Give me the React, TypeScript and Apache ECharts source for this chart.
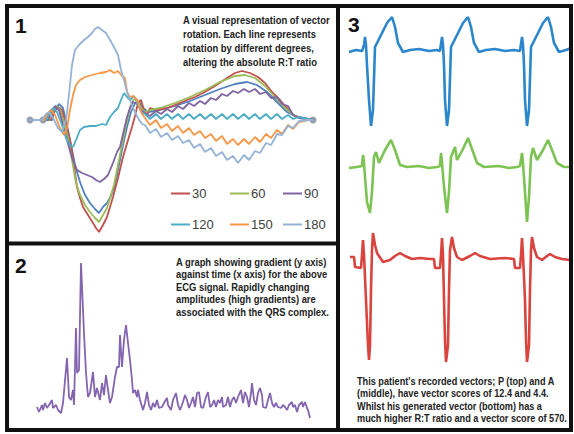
import React, { useEffect, useRef } from 'react';
import * as echarts from 'echarts';

// ---------- Panel 1: vector rotation (time, amplitude) ----------
const rotation0 = [[0,0],[24,0],[27,10],[31,16],[35,12],[39,-5],[43,-25],[47,-45],[52,-62],[57,-75],[62,-83],[67,-89],[71,-93],[75,-87],[79,-83],[83,-76],[87,-65],[91,-45],[95,-25],[99,-7],[103,8],[107,17],[111,18],[115,12],[120,8],[132,10],[147,14],[162,19],[177,25],[192,31],[207,36],[219,38],[229,35],[239,28],[249,18],[259,8],[269,3],[285,0]];
const rotation30 = [[0,0],[22,0],[26,8],[30,13],[34,10],[38,-5],[42,-20],[46,-45],[49,-67],[52,-78],[55,-87],[60,-95],[65,-103],[68,-108],[71,-112],[75,-105],[79,-97],[82,-87],[85,-77],[90,-58],[95,-37],[100,-20],[104,-7],[107,4],[110,17],[113,20],[116,10],[119,5],[122,12],[129,10],[139,12],[147,15],[159,20],[167,23],[175,27],[187,34],[199,42],[207,47],[214,49],[222,47],[230,43],[237,37],[244,28],[252,20],[259,12],[265,5],[275,2],[285,0]];
const rotation60 = [[0,0],[21,0],[24,8],[28,14],[32,10],[36,-2],[40,-18],[44,-40],[48,-63],[52,-75],[57,-85],[62,-92],[67,-98],[71,-102],[75,-95],[79,-88],[82,-78],[86,-65],[90,-45],[94,-25],[98,-5],[102,12],[105,20],[109,21],[113,12],[117,8],[122,10],[132,12],[147,17],[162,23],[177,30],[192,38],[207,44],[217,45],[227,42],[237,34],[247,23],[257,12],[267,4],[277,1],[285,0]];
const rotation90 = [[0,0],[20,0],[23,8],[27,14],[31,10],[35,-5],[39,-20],[44,-38],[49,-50],[54,-53],[59,-55],[64,-57],[68,-60],[72,-62],[76,-59],[80,-55],[85,-43],[89,-32],[92,-27],[96,-10],[99,3],[102,12],[105,18],[109,16],[113,10],[117,7],[122,4],[128,9],[133,6],[139,11],[144,8],[150,14],[155,11],[161,17],[166,14],[172,19],[177,16],[183,22],[188,20],[194,26],[199,24],[205,29],[210,27],[216,31],[221,28],[227,31],[232,26],[238,28],[243,22],[249,23],[254,16],[260,14],[265,5],[271,2],[285,0]];
const rotation120 = [[0,0],[18,0],[22,8],[25,12],[29,8],[34,-5],[38,-18],[42,-25],[45,-27],[48,-20],[52,-10],[56,-7],[62,-6],[68,-6],[74,-4],[78,-5],[82,3],[86,8],[90,12],[93,20],[96,27],[99,23],[102,20],[106,24],[110,15],[114,7],[117,6],[122,1],[128,6],[133,1],[139,6],[144,1],[150,6],[155,1],[161,6],[166,1],[172,6],[177,1],[183,6],[188,1],[194,6],[199,1],[205,6],[210,1],[216,6],[221,1],[227,6],[232,1],[238,6],[243,1],[249,6],[254,1],[260,5],[265,1],[271,3],[285,0]];
const rotation150 = [[0,0],[16,0],[20,7],[23,10],[27,5],[32,-8],[36,-15],[39,-8],[42,10],[45,25],[48,35],[52,40],[57,43],[64,45],[72,47],[78,48],[82,50],[86,47],[90,49],[94,44],[97,42],[99,28],[102,23],[105,24],[109,20],[113,8],[117,2],[122,-5],[128,0],[133,-8],[139,-4],[144,-11],[150,-6],[155,-13],[161,-8],[166,-15],[172,-11],[177,-18],[183,-14],[188,-21],[194,-16],[199,-24],[205,-19],[210,-25],[216,-19],[221,-24],[227,-17],[232,-22],[238,-14],[243,-18],[249,-10],[254,-14],[260,-5],[265,-9],[271,-2],[280,0],[285,0]];
const rotation180 = [[0,0],[14,0],[18,6],[21,8],[25,2],[30,-8],[34,-12],[38,0],[41,25],[44,55],[47,70],[51,75],[56,80],[60,83],[64,87],[67,91],[70,93],[74,90],[78,87],[82,80],[86,73],[90,65],[93,50],[96,40],[99,28],[102,20],[106,10],[110,2],[114,-4],[117,-5],[122,-13],[128,-9],[133,-17],[139,-13],[144,-20],[150,-16],[155,-23],[161,-20],[166,-28],[172,-24],[177,-32],[183,-28],[188,-36],[194,-32],[199,-40],[205,-36],[210,-43],[216,-35],[221,-40],[227,-31],[232,-33],[238,-23],[243,-25],[249,-14],[254,-15],[260,-6],[265,-8],[271,-1],[280,0],[285,0]];
const markerPoints = [[2,0],[15,0],[285,0]];

const rotationNames = ['30', '60', '90', '120', '150', '180'];

// ---------- Panel 2: gradient against time ----------
const gradTime = [0,2,5,6,8,10,12,15,16,19,21,24,26,30,32,34,36,37,39,40,42,44,47,49,51,53,56,58,60,63,65,67,69,71,73,75,78,80,82,83,85,87,89,91,93,95,96,98,100,101,103,106,108,110,112,114,116,118,120,122,125,127,130,131,134,136,139,141,143,146,148,150,152,154,156,158,160,162,164,166,169,171,173,175,177,179,181,183,185,186,189,191,193,195,197,199,201,204,206,208,210,212,214,215,217,219,221,223,225,226,229,231,233,235,237,239,241,244,246,248,250,252,255,256,258,260,262,265,266,268,270,271,273];
const gradValue = [13,8,15,10,17,12,15,20,12,15,10,7,17,62,23,20,30,15,92,47,50,157,87,47,23,27,48,23,32,20,37,25,45,30,17,23,43,53,53,85,53,80,95,77,60,40,27,30,23,30,20,10,17,28,15,10,17,13,20,12,13,17,22,15,10,20,27,15,10,18,25,20,12,17,23,13,27,28,13,12,23,28,13,15,20,13,20,17,23,13,15,23,13,20,23,17,23,30,17,28,23,13,27,37,20,15,27,32,25,13,12,20,27,17,13,17,13,12,15,13,10,15,18,13,15,8,15,18,13,18,12,10,2];

// ---------- Panel 3: recorded and generated vectors ----------
const vectorP = [[0,-2],[7,0],[13,-1],[15,5],[16,13],[17,5],[18,-15],[20,-50],[22,-76],[24,-60],[26,3],[31,13],[38,27],[43,33],[46,23],[49,7],[54,-2],[61,0],[70,1],[80,-1],[88,0],[91,-1],[93,13],[94,5],[95,-15],[96,-50],[98,-76],[100,-60],[102,3],[107,13],[114,27],[119,33],[122,23],[125,7],[130,-2],[137,0],[146,1],[156,-1],[165,0],[171,-1],[173,13],[174,5],[175,-15],[176,-50],[178,-76],[180,-60],[182,3],[187,13],[194,27],[199,33],[202,23],[205,7],[210,-2],[217,0],[222,2]];
const vectorA = [[0,-1],[8,0],[13,1],[14,12],[15,4],[16,-10],[18,-35],[21,-46],[23,-25],[25,10],[27,15],[30,4],[36,17],[42,27],[46,17],[51,2],[58,0],[70,1],[80,-1],[88,0],[91,1],[92,14],[93,4],[95,-20],[98,-46],[100,-25],[102,10],[106,20],[108,7],[114,18],[119,29],[123,18],[128,4],[135,0],[150,1],[160,-1],[168,0],[171,1],[173,14],[174,4],[176,-25],[178,-55],[180,-30],[182,10],[184,19],[188,7],[194,17],[199,27],[203,17],[208,4],[215,0],[222,0]];
const vectorGenerated = [[1,3],[5,3],[6,-7],[12,-8],[13,5],[14,20],[15,5],[17,-40],[19,-85],[20,-100],[21,-85],[22,-30],[23,10],[24,27],[26,15],[28,7],[34,-2],[41,0],[46,4],[51,7],[56,4],[63,1],[71,2],[81,1],[85,1],[86,-8],[91,-8],[92,5],[93,22],[94,5],[95,-40],[96,-80],[97,-102],[99,-85],[100,-30],[101,10],[103,23],[105,12],[108,3],[113,0],[121,4],[126,7],[131,4],[141,1],[156,2],[165,1],[166,-8],[171,-8],[172,5],[173,22],[174,5],[176,-40],[177,-80],[178,-102],[180,-85],[181,-30],[182,10],[183,23],[185,12],[188,3],[193,0],[198,4],[201,6],[206,3],[213,1],[221,0]];

const text1 = ['A visual representation of vector', 'rotation. Each line represents', 'rotation by different degrees,', 'altering the absolute R:T ratio'];
const text2 = ['A graph showing gradient (y axis)', 'against time (x axis) for the above', 'ECG signal. Rapidly changing', 'amplitudes (high gradients) are', 'associated with the QRS complex.'];
const text3 = ["This patient's recorded vectors; P (top) and A", '(middle), have vector scores of 12.4 and 4.4.', 'Whilst his generated vector (bottom) has a', 'much higher R:T ratio and a vector score of 570.'];

const SANS = '"Liberation Sans", Arial, sans-serif';

export default function App() {
  const ref = useRef<HTMLDivElement>(null);
  useEffect(() => {
    if (!ref.current) return;
    const chart = echarts.init(ref.current, undefined, { renderer: 'svg' });
    const line = (name: string, data: any, color: string, idx: number, width: number) => ({
      type: 'line', name, data, xAxisIndex: idx, yAxisIndex: idx, symbol: 'none',
      lineStyle: { color, width }, itemStyle: { color }, silent: true, clip: false,
    });
    const rotColors = ['#c0504d', '#9bbb59', '#8064a2', '#4bacc6', '#f79646', '#95b3d7'];
    const rotData = [rotation30, rotation60, rotation90, rotation120, rotation150, rotation180];
    const legendLeft = [171, 230, 283];
    const legends = rotationNames.map((n, i) => ({
      data: [n], left: legendLeft[i % 3], top: i < 3 ? 187 : 218, icon: 'rect', itemWidth: 19, itemHeight: 2,
      itemGap: 0, padding: 0, selectedMode: false,
      textStyle: { fontSize: 13, color: '#404040', fontFamily: SANS, padding: [0, 0, 0, -3] },
    }));
    const hidden = { show: false };
    const option: any = {
      animation: false,
      backgroundColor: '#ffffff',
      grid: [
        { left: 28, top: 20, width: 290, height: 220 },
        { left: 37, top: 250, width: 280, height: 170 },
        { left: 349, top: 10, width: 222, height: 120 },
        { left: 349, top: 127, width: 222, height: 120 },
        { left: 349, top: 220, width: 222, height: 150 },
      ],
      xAxis: [
        { type: 'value', gridIndex: 0, min: 0, max: 290, ...hidden },
        { type: 'value', gridIndex: 1, min: 0, max: 280, ...hidden },
        { type: 'value', gridIndex: 2, min: 0, max: 222, ...hidden },
        { type: 'value', gridIndex: 3, min: 0, max: 222, ...hidden },
        { type: 'value', gridIndex: 4, min: 0, max: 222, ...hidden },
      ],
      yAxis: [
        { type: 'value', gridIndex: 0, min: -120, max: 100, ...hidden },
        { type: 'value', gridIndex: 1, min: 0, max: 170, ...hidden },
        { type: 'value', gridIndex: 2, min: -80, max: 40, ...hidden },
        { type: 'value', gridIndex: 3, min: -80, max: 40, ...hidden },
        { type: 'value', gridIndex: 4, min: -110, max: 40, ...hidden },
      ],
      legend: legends,
      series: [
        line('0', rotation0, '#4f81bd', 0, 1.8),
        ...rotationNames.map((n, i) => line(n, rotData[i], rotColors[i], 0, 1.8)),
        { type: 'scatter', name: 'marker', data: markerPoints, xAxisIndex: 0, yAxisIndex: 0, symbolSize: 7, itemStyle: { color: '#7d8696' }, silent: true },
        line('gradient', gradTime.map((t, i) => [t, gradValue[i]]), '#8466b0', 1, 1.8),
        line('P', vectorP, '#2c86cc', 2, 2.6),
        line('A', vectorA, '#7cc353', 3, 2.6),
        line('Generated', vectorGenerated, '#d9443f', 4, 2.6),
      ],
      graphic: [
        { type: 'rect', shape: { x: 7, y: 6, width: 564, height: 424 }, style: { fill: 'none', stroke: '#111', lineWidth: 4 }, z: 100 },
        { type: 'line', shape: { x1: 7, y1: 243.5, x2: 338, y2: 243.5 }, style: { stroke: '#111', lineWidth: 4 }, z: 100 },
        { type: 'line', shape: { x1: 338, y1: 6, x2: 338, y2: 430 }, style: { stroke: '#111', lineWidth: 4 }, z: 100 },
        { type: 'text', x: 15, y: 15, style: { text: '1', font: 'bold 21px ' + SANS, fill: '#111', verticalAlign: 'top' }, z: 100 },
        { type: 'text', x: 15, y: 255, style: { text: '2', font: 'bold 21px ' + SANS, fill: '#111', verticalAlign: 'top' }, z: 100 },
        { type: 'text', x: 348, y: 14, style: { text: '3', font: 'bold 21px ' + SANS, fill: '#111', verticalAlign: 'top' }, z: 100 },
        { type: 'text', x: 183, y: 13, scaleX: 0.86, style: { text: text1.join('\n'), font: 'bold 11px ' + SANS, lineHeight: 14, fill: '#222', verticalAlign: 'top' }, z: 100 },
        { type: 'text', x: 176, y: 256, scaleX: 0.94, style: { text: text2.join('\n'), font: 'bold 10px ' + SANS, lineHeight: 12.5, fill: '#222', verticalAlign: 'top' }, z: 100 },
        { type: 'text', x: 357, y: 375, scaleX: 0.915, style: { text: text3.join('\n'), font: 'bold 10px ' + SANS, lineHeight: 12.4, fill: '#222', verticalAlign: 'top' }, z: 100 },
      ],
    };
    chart.setOption(option);
    return () => chart.dispose();
  }, []);
  return <div ref={ref} style={{ position: 'fixed', left: 0, top: 0, width: 574, height: 434 }} />;
}
